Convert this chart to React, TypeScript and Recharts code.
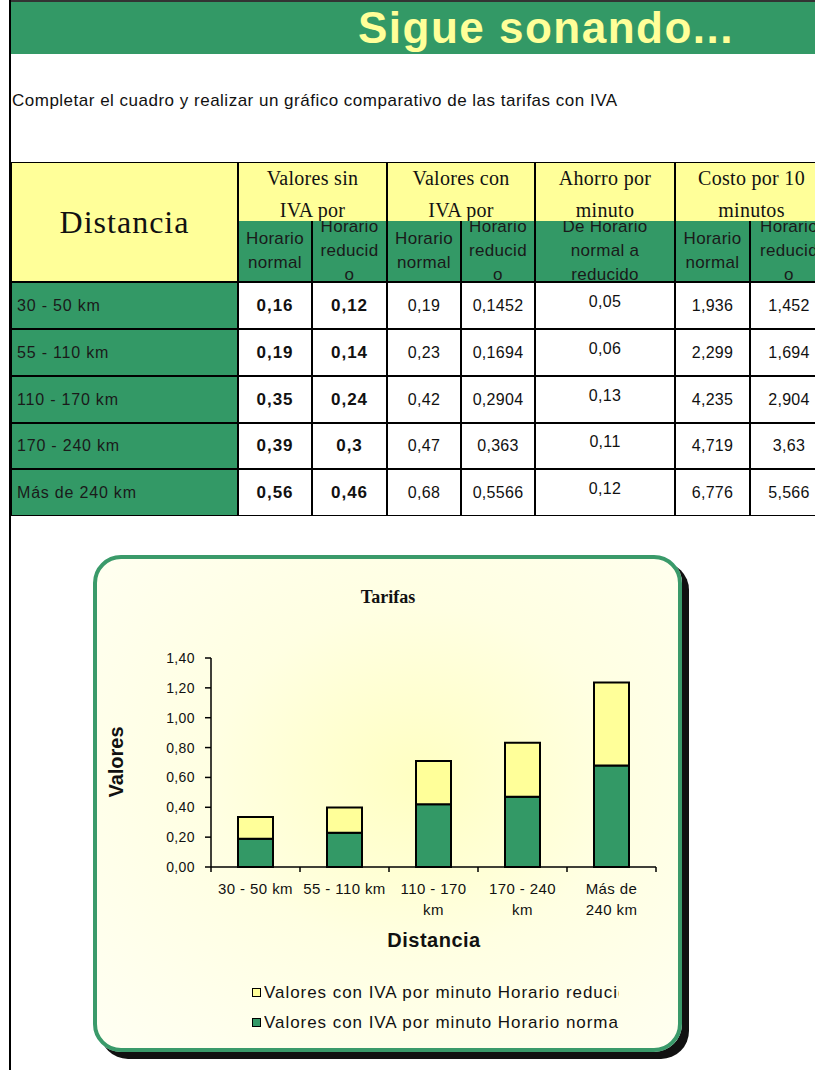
import React from "react";
import { Bar, BarChart, XAxis, YAxis } from "recharts";

const distances = ["30 - 50 km", "55 - 110 km", "110 - 170 km", "170 - 240 km", "Más de 240 km"];
const sinIvaNormal = [0.16, 0.19, 0.35, 0.39, 0.56];
const sinIvaReducido = [0.12, 0.14, 0.24, 0.3, 0.46];
const conIvaNormal = [0.19, 0.23, 0.42, 0.47, 0.68];
const conIvaReducido = [0.1452, 0.1694, 0.2904, 0.363, 0.5566];
const ahorroPorMinuto = [0.05, 0.06, 0.13, 0.11, 0.12];
const costoNormal = [1.936, 2.299, 4.235, 4.719, 6.776];
const costoReducido = [1.452, 1.694, 2.904, 3.63, 5.566];

// wrapped the way the spreadsheet wraps them under the axis
const distanceTickLines = [["30 - 50 km"], ["55 - 110 km"], ["110 - 170", "km"], ["170 - 240", "km"], ["Más de", "240 km"]];
const valueTicks = [0, 0.2, 0.4, 0.6, 0.8, 1.0, 1.2, 1.4];

const chartData = distances.map((d, i) => ({
  distancia: d,
  normal: conIvaNormal[i],
  reducido: conIvaReducido[i],
}));

const GREEN = "#339966";
const YELLOW = "#FFFF99";
const SANS = '"Liberation Sans", Arial, sans-serif';
const SERIF = '"Liberation Serif", "Times New Roman", serif';

const fmt = (v: number) => String(v).replace(".", ",");

// table grid
const colX = [11, 238, 312, 387, 461, 535, 675, 750, 828];
const rowY = [282, 329, 376, 423, 469, 516];
const HEAD_TOP = 162;
const SUB_TOP = 221;

// chart geometry
const FRAME = { left: 93, top: 555, width: 589, height: 497 };
const PLOT = { left: 211, right: 656, top: 658, bottom: 867 };
const BAND = (PLOT.right - PLOT.left) / distances.length;
const Y_AXIS_W = 60;
const X_AXIS_H = 30;

type BoxProps = {
  x1: number;
  x2: number;
  y1: number;
  y2: number;
  bg?: string;
  style?: React.CSSProperties;
  children?: React.ReactNode;
};

function Box({ x1, x2, y1, y2, bg = "#fff", style, children }: BoxProps) {
  return (
    <div
      style={{
        position: "absolute",
        left: x1,
        top: y1,
        width: x2 - x1,
        height: y2 - y1,
        background: bg,
        border: "1px solid #000",
        boxSizing: "border-box",
        display: "flex",
        alignItems: "center",
        justifyContent: "center",
        overflow: "hidden",
        textAlign: "center",
        ...style,
      }}
    >
      {children}
    </div>
  );
}

function Label({ x, y, style, children }: { x: number; y: number; style?: React.CSSProperties; children: React.ReactNode }) {
  return (
    <div
      style={{
        position: "absolute",
        left: x,
        top: y,
        transform: "translate(-50%, -50%)",
        whiteSpace: "nowrap",
        lineHeight: 1,
        ...style,
      }}
    >
      {children}
    </div>
  );
}

function DistanceTick(props: any) {
  const { x, y, index } = props;
  const lines = distanceTickLines[index] || [];
  const half = BAND / 2;
  return (
    <g>
      <line x1={x - half} x2={x - half} y1={y} y2={y + 5} stroke="#000" strokeWidth={1.5} />
      {index === distances.length - 1 && (
        <line x1={x + half} x2={x + half} y1={y} y2={y + 5} stroke="#000" strokeWidth={1.5} />
      )}
      <text x={x} y={y + 27} textAnchor="middle" fontSize={15} fontFamily={SANS} fill="#111" style={{ letterSpacing: 0.4 }}>
        {lines.map((l, k) => (
          <tspan key={k} x={x} dy={k === 0 ? 0 : 21}>
            {l}
          </tspan>
        ))}
      </text>
    </g>
  );
}

const groupHeads: [number, number, string, string][] = [
  [1, 3, "Valores sin", "IVA por"],
  [3, 5, "Valores con", "IVA por"],
  [5, 6, "Ahorro por", "minuto"],
  [6, 8, "Costo por 10", "minutos"],
];

const subHeads: string[][] = [
  ["Horario", "normal"],
  ["Horario", "reducid", "o"],
  ["Horario", "normal"],
  ["Horario", "reducid", "o"],
  ["De Horario", "normal a", "reducido"],
  ["Horario", "normal"],
  ["Horario", "reducid", "o"],
];

export default function App() {
  const valueCols = [sinIvaNormal, sinIvaReducido, conIvaNormal, conIvaReducido, ahorroPorMinuto, costoNormal, costoReducido];

  return (
    <div
      style={{
        position: "absolute",
        left: 0,
        top: 0,
        width: 815,
        height: 1070,
        background: "#fff",
        overflow: "hidden",
        fontFamily: SANS,
        color: "#111",
      }}
    >
      {/* banner */}
      <div style={{ position: "absolute", left: 11, top: 0, width: 804, height: 54, background: GREEN }} />
      <div style={{ position: "absolute", left: 9, top: 0, width: 806, height: 2, background: "#333" }} />
      <div style={{ position: "absolute", left: 9, top: 0, width: 2, height: 1070, background: "#000" }} />
      <Label x={546} y={28} style={{ fontSize: 44, fontWeight: 700, color: YELLOW, letterSpacing: 1.5 }}>
        Sigue sonando...
      </Label>

      <div style={{ position: "absolute", left: 12, top: 92, fontSize: 17, lineHeight: 1, whiteSpace: "nowrap", letterSpacing: 0.5 }}>
        Completar el cuadro y realizar un gráfico comparativo de las tarifas con IVA
      </div>

      {/* table header */}
      <Box x1={colX[0]} x2={colX[1]} y1={HEAD_TOP} y2={rowY[0]} bg={YELLOW}>
        <span style={{ fontFamily: SERIF, fontSize: 32, letterSpacing: 1 }}>Distancia</span>
      </Box>
      {groupHeads.map(([a, b, l1, l2]) => (
        <Box
          key={l1}
          x1={colX[a]}
          x2={colX[b]}
          y1={HEAD_TOP}
          y2={SUB_TOP}
          bg={YELLOW}
          style={{ alignItems: "flex-start", borderBottom: "none" }}
        >
          <div style={{ fontFamily: SERIF, fontSize: 20, lineHeight: "32px", marginTop: -1, letterSpacing: 0.3 }}>
            {l1}
            <br />
            {l2}
          </div>
        </Box>
      ))}
      {subHeads.map((lines, i) => (
        <Box key={i} x1={colX[i + 1]} x2={colX[i + 2]} y1={SUB_TOP} y2={rowY[0]} bg={GREEN} style={{ borderTop: "none" }}>
          <div style={{ fontSize: 17, lineHeight: "24px", color: "#1a1a1a", letterSpacing: 0.3 }}>
            {lines.map((l, k) => (
              <div key={k}>{l}</div>
            ))}
          </div>
        </Box>
      ))}

      {/* table body */}
      {distances.map((d, r) => (
        <React.Fragment key={d}>
          <Box
            x1={colX[0]}
            x2={colX[1]}
            y1={rowY[r]}
            y2={rowY[r + 1]}
            bg={GREEN}
            style={{ justifyContent: "flex-start", paddingLeft: 5 }}
          >
            <span style={{ fontSize: 16, letterSpacing: 0.8, color: "#1a1a1a" }}>{d}</span>
          </Box>
          {valueCols.map((col, c) => (
            <Box key={c} x1={colX[c + 1]} x2={colX[c + 2]} y1={rowY[r]} y2={rowY[r + 1]}>
              <span
                style={{
                  fontSize: c < 2 ? 17 : 16,
                  fontWeight: c < 2 ? 700 : 400,
                  letterSpacing: c < 2 ? 1 : 0.3,
                  position: "relative",
                  top: c === 4 ? -4 : 0,
                }}
              >
                {fmt(col[r])}
              </span>
            </Box>
          ))}
        </React.Fragment>
      ))}

      {/* chart frame */}
      <div
        style={{
          position: "absolute",
          left: FRAME.left,
          top: FRAME.top,
          width: FRAME.width,
          height: FRAME.height,
          boxSizing: "border-box",
          border: "4px solid #3a9a6a",
          borderRadius: 28,
          boxShadow: "7px 7px 0 #111",
          background: "radial-gradient(ellipse at 55% 45%, #FFFFC2 0%, #FFFFE2 45%, #FFFFF3 100%)",
        }}
      />
      <div style={{ position: "absolute", left: FRAME.left, top: FRAME.top }}>
        <BarChart
          width={FRAME.width}
          height={FRAME.height}
          data={chartData}
          barSize={35}
          margin={{
            top: PLOT.top - FRAME.top,
            right: FRAME.left + FRAME.width - PLOT.right,
            bottom: FRAME.top + FRAME.height - PLOT.bottom - X_AXIS_H,
            left: PLOT.left - FRAME.left - Y_AXIS_W,
          }}
        >
          <XAxis
            dataKey="distancia"
            height={X_AXIS_H}
            interval={0}
            tickLine={false}
            tickSize={0}
            tickMargin={0}
            tick={(p: any) => <DistanceTick {...p} />}
            axisLine={{ stroke: "#000", strokeWidth: 1.5 }}
          />
          <YAxis
            width={Y_AXIS_W}
            domain={[0, 1.4]}
            ticks={valueTicks}
            interval={0}
            tickFormatter={(v: number) => Number(v).toFixed(2).replace(".", ",")}
            tick={{ fill: "#111", fontSize: 14, fontFamily: SANS, style: { letterSpacing: 0.4 } }}
            tickLine={{ stroke: "#000", strokeWidth: 1.5 }}
            axisLine={{ stroke: "#000", strokeWidth: 1.5 }}
            tickSize={6}
            tickMargin={10}
          />
          <Bar dataKey="normal" stackId="t" fill={GREEN} stroke="#000" strokeWidth={2} isAnimationActive={false} />
          <Bar dataKey="reducido" stackId="t" fill={YELLOW} stroke="#000" strokeWidth={2} isAnimationActive={false} />
        </BarChart>
      </div>

      {/* chart texts */}
      <Label x={388} y={597} style={{ fontFamily: SERIF, fontWeight: 700, fontSize: 18 }}>
        Tarifas
      </Label>
      <Label x={116} y={762} style={{ fontWeight: 700, fontSize: 20, transform: "translate(-50%, -50%) rotate(-90deg)" }}>
        Valores
      </Label>
      <Label x={434} y={940} style={{ fontWeight: 700, fontSize: 20, letterSpacing: 0.5 }}>
        Distancia
      </Label>

      {/* legend */}
      {[
        { color: YELLOW, text: "Valores con IVA por minuto Horario reducido", y: 993 },
        { color: GREEN, text: "Valores con IVA por minuto Horario normal", y: 1023 },
      ].map((item) => (
        <React.Fragment key={item.text}>
          <div
            style={{
              position: "absolute",
              left: 252,
              top: item.y - 5,
              width: 9,
              height: 9,
              boxSizing: "border-box",
              border: "1px solid #000",
              background: item.color,
            }}
          />
          <div
            style={{
              position: "absolute",
              left: 264,
              top: item.y - 10,
              width: 619 - 264,
              height: 20,
              overflow: "hidden",
              whiteSpace: "nowrap",
              fontSize: 17,
              lineHeight: "20px",
              letterSpacing: 0.95,
            }}
          >
            {item.text}
          </div>
        </React.Fragment>
      ))}
    </div>
  );
}
